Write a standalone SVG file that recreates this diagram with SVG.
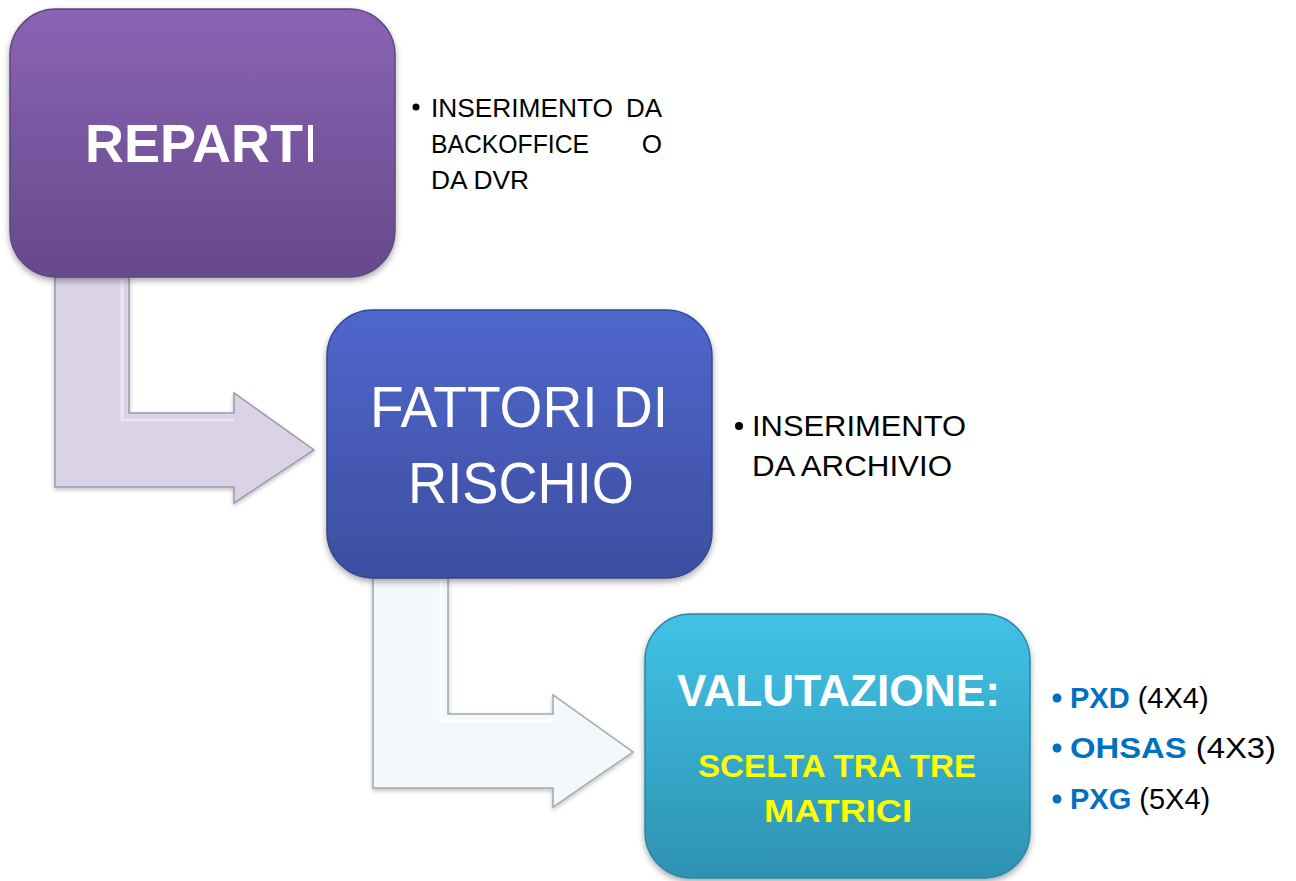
<svg xmlns="http://www.w3.org/2000/svg" width="1296" height="881" viewBox="0 0 1296 881">
<defs>
<linearGradient id="gP" x1="0" y1="0" x2="0" y2="1"><stop offset="0" stop-color="#8A63B4"/><stop offset="1" stop-color="#664A8B"/></linearGradient>
<linearGradient id="gB" x1="0" y1="0" x2="0" y2="1"><stop offset="0" stop-color="#4F67CD"/><stop offset="1" stop-color="#3D4E9F"/></linearGradient>
<linearGradient id="gC" x1="0" y1="0" x2="0" y2="1"><stop offset="0" stop-color="#40C2E6"/><stop offset="1" stop-color="#2E92B2"/></linearGradient>
<filter id="sh" x="-10%" y="-10%" width="120%" height="125%"><feDropShadow dx="0" dy="3" stdDeviation="3" flood-color="#000" flood-opacity="0.35"/></filter>
<filter id="sha" x="-10%" y="-10%" width="120%" height="125%"><feDropShadow dx="0" dy="2" stdDeviation="2" flood-color="#000" flood-opacity="0.25"/></filter>
<style>
.box{stroke-width:1.5}
.t{font-family:"Liberation Sans",Arial,sans-serif}
.w{fill:#fff}
.k{fill:#000}
.bl{fill:#0070C0;font-weight:bold}
</style>
</defs>
<rect width="1296" height="881" fill="#fff"/>
<g id="connectors">
<path d="M55,277 L129,277 L129,413 L234,413 L234,393 L314,450 L234,503 L234,487 L55,487 Z" fill="#DAD3E6" stroke="#9F98AE" stroke-width="1.5" filter="url(#sha)"/>
<path d="M122,280 L122,420 L234,420" stroke="#EEEAF4" stroke-width="3" fill="none" opacity="0.8"/>
<path d="M373,578 L448,578 L448,714 L553,714 L553,695 L633,752 L553,807 L553,788 L373,788 Z" fill="#F3F8FB" stroke="#A3A8AC" stroke-width="1.5" filter="url(#sha)"/>
<path d="M441,581 L441,721 L553,721" stroke="#FFFFFF" stroke-width="3" fill="none"/>
</g>
<g id="reparti">
<rect x="10" y="9" width="385" height="268" rx="46" fill="url(#gP)" stroke="#5E4582" class="box" filter="url(#sh)"/>
<text class="t w" x="85" y="162" font-size="53" textLength="233" lengthAdjust="spacingAndGlyphs"><tspan font-weight="bold">REPART</tspan><tspan>I</tspan></text>
</g>
<g id="fattori">
<rect x="327" y="310" width="385" height="268" rx="46" fill="url(#gB)" stroke="#36478F" class="box" filter="url(#sh)"/>
<text class="t w" x="370" y="427" font-size="57" textLength="298" lengthAdjust="spacingAndGlyphs">FATTORI DI</text>
<text class="t w" x="408" y="503" font-size="57" textLength="226" lengthAdjust="spacingAndGlyphs">RISCHIO</text>
</g>
<g id="valutazione">
<rect x="645" y="614" width="385" height="264" rx="46" fill="url(#gC)" stroke="#2A87A5" class="box" filter="url(#sh)"/>
<text class="t w" x="677" y="706" font-size="45" font-weight="bold" textLength="323" lengthAdjust="spacingAndGlyphs">VALUTAZIONE:</text>
<text class="t" x="698" y="777" font-size="31" font-weight="bold" fill="#FFFF00" textLength="278" lengthAdjust="spacingAndGlyphs">SCELTA TRA TRE</text>
<text class="t" x="764" y="822" font-size="31" font-weight="bold" fill="#FFFF00" textLength="148" lengthAdjust="spacingAndGlyphs">MATRICI</text>
</g>
<g id="note1" class="t k" font-size="26">
<circle cx="416" cy="107" r="3.5" fill="#000"/>
<text x="431" y="117" textLength="182" lengthAdjust="spacingAndGlyphs">INSERIMENTO</text>
<text x="662" y="117" text-anchor="end">DA</text>
<text x="431" y="153" textLength="158" lengthAdjust="spacingAndGlyphs">BACKOFFICE</text>
<text x="662" y="153" text-anchor="end">O</text>
<text x="431" y="189" textLength="98" lengthAdjust="spacingAndGlyphs">DA DVR</text>
</g>
<g id="note2" class="t k" font-size="29">
<circle cx="739" cy="426" r="4" fill="#000"/>
<text x="752" y="436" textLength="214" lengthAdjust="spacingAndGlyphs">INSERIMENTO</text>
<text x="752" y="476" textLength="200" lengthAdjust="spacingAndGlyphs">DA ARCHIVIO</text>
</g>
<g id="note3" class="t" font-size="29">
<circle cx="1057" cy="698" r="4.5" fill="#0070C0"/>
<circle cx="1057" cy="748" r="4.5" fill="#0070C0"/>
<circle cx="1057" cy="799" r="4.5" fill="#0070C0"/>
<text x="1070" y="708"><tspan class="bl">PXD</tspan><tspan class="k"> (4X4)</tspan></text>
<text x="1070" y="758" textLength="206" lengthAdjust="spacingAndGlyphs"><tspan class="bl">OHSAS</tspan><tspan class="k"> (4X3)</tspan></text>
<text x="1070" y="809"><tspan class="bl">PXG</tspan><tspan class="k"> (5X4)</tspan></text>
</g>
</svg>
